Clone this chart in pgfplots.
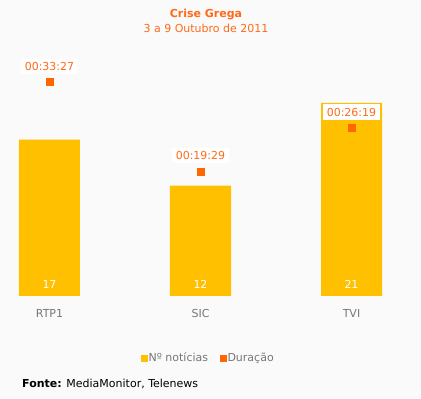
\documentclass[border=0pt]{standalone}
\usepackage{pgfplots}
\pgfplotsset{compat=1.18}
\usepackage{fontspec}
\setmainfont{DejaVu Sans}
\definecolor{bg}{HTML}{FAFAFA}
\definecolor{baryel}{HTML}{FFC000}
\definecolor{durorg}{HTML}{FF6600}
\definecolor{txtorg}{HTML}{FF6A1A}
\definecolor{tickgray}{HTML}{777777}
\newcommand{\fs}{\fontsize{11}{13}\selectfont}
\begin{document}
\begin{tikzpicture}[x=1pt,y=1pt]
\fill[bg] (0,0) rectangle (421,399);
\node[font=\bfseries\fs, text=txtorg] at (206,384) {Crise Grega};
\node[font=\fs, text=txtorg] at (206,371) {3 a 9 Outubro de 2011};
\node[anchor=west, font=\fs, inner sep=0pt] at (22,15) {\textbf{Fonte:} MediaMonitor, Telenews};
\begin{axis}[
  at={(4.2pt,103pt)}, anchor=south west, scale only axis,
  width=392.6pt, height=236pt,
  xmin=-0.3, xmax=2.3, ymin=0, ymax=25.65,
  axis line style={draw=none}, ytick=\empty,
  xtick={0,1,2}, xticklabels={RTP1,SIC,TVI}, major tick length=0pt,
  xticklabel style={text=tickgray, font=\fs, yshift=-10pt},
  clip=false,
]
\addplot[ybar, bar width=61pt, bar shift=0pt, fill=baryel, draw=none] coordinates {(0,17) (1,12) (2,21)};
\addplot[only marks, mark=none, nodes near coords, point meta=explicit symbolic,
  every node near coord/.append style={anchor=center, text=white, font=\fs}]
  coordinates {(0,1.3)[17] (1,1.3)[12] (2,1.3)[21]};
\end{axis}
\begin{axis}[
  at={(4.2pt,103pt)}, anchor=south west, scale only axis,
  width=392.6pt, height=236pt,
  xmin=-0.3, xmax=2.3, ymin=0, ymax=2212,
  axis lines=none, clip=false,
  legend style={at={(0.519,-0.263)}, anchor=center, draw=none, fill=none,
    legend columns=2, font=\fs, text=tickgray,
    nodes={inner xsep=1.5pt},
    /tikz/every even column/.append style={column sep=10pt}},
  legend cell align=left,
]
\addlegendimage{legend image code/.code={\fill[baryel] (0pt,-3pt) rectangle (6pt,3pt);}}
\addlegendentry{Nº notícias}
\addplot[only marks, mark=square*, mark size=3.5pt, color=durorg,
  nodes near coords, point meta=explicit symbolic,
  every node near coord/.append style={anchor=center, yshift=15.5pt, text=txtorg, fill=white, inner xsep=4pt, inner ysep=3.5pt, font=\fs},
  legend image code/.code={\fill[durorg] (0pt,-3pt) rectangle (6pt,3pt);}]
  coordinates {(0,2007)[00:33:27] (1,1169)[00:19:29] (2,1579)[00:26:19]};
\addlegendentry{Duração}
\end{axis}
\end{tikzpicture}
\end{document}
